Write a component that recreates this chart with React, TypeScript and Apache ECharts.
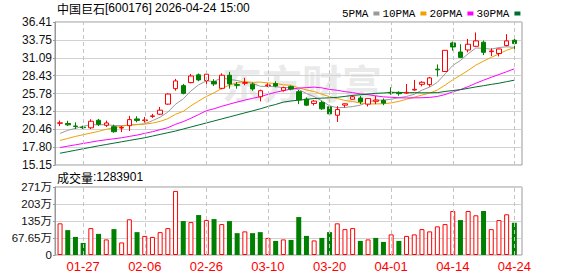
import React, { useEffect, useRef } from 'react';
import * as echarts from 'echarts';

const dates = [
  '01-22', '01-23', '01-26', '01-27', '01-28', '01-29', '01-30', '02-02', '02-03', '02-04',
  '02-05', '02-06', '02-09', '02-10', '02-11', '02-12', '02-13', '02-24', '02-25', '02-26',
  '02-27', '03-02', '03-03', '03-04', '03-05', '03-06', '03-09', '03-10', '03-11', '03-12',
  '03-13', '03-16', '03-17', '03-18', '03-19', '03-20', '03-23', '03-24', '03-25', '03-26',
  '03-27', '03-30', '03-31', '04-01', '04-02', '04-03', '04-07', '04-08', '04-09', '04-10',
  '04-13', '04-14', '04-15', '04-16', '04-17', '04-20', '04-21', '04-22', '04-23', '04-24',
];

const opens = [
  21.35, 21.32, 20.95, 20.78, 20.68, 21.8, 21.05, 20.85, 20.65, 21.0,
  22.0, 21.75, 22.38, 22.7, 24.2, 26.5, 26.95, 27.4, 28.55, 27.7,
  27.55, 26.55, 28.5, 27.1, 27.3, 27.15, 25.3, 26.95, 27.25, 26.25,
  26.8, 26.05, 24.95, 24.3, 24.45, 23.8, 22.55, 24.05, 24.92, 25.1,
  24.2, 24.62, 24.75, 25.95, 25.9, 25.85, 26.3, 27.15, 27.1, 29.4,
  29.05, 33.3, 31.95, 32.25, 32.8, 33.4, 32.0, 31.72, 32.9, 33.7,
];
const closes = [
  21.42, 21.12, 20.88, 20.7, 21.65, 21.2, 21.4, 20.1, 20.72, 21.9,
  21.78, 21.85, 22.45, 23.3, 25.7, 27.65, 25.8, 28.38, 27.8, 28.65,
  27.2, 28.5, 27.2, 27.0, 27.4, 26.45, 26.2, 27.05, 26.9, 26.65,
  26.45, 24.82, 24.05, 24.65, 23.5, 22.75, 23.4, 24.25, 25.3, 24.55,
  25.05, 24.8, 24.35, 25.85, 25.75, 25.95, 26.4, 27.45, 28.1, 29.3,
  32.2, 32.7, 31.15, 33.1, 33.6, 31.9, 32.1, 32.4, 33.6, 33.2,
];
const lows = [
  20.95, 20.95, 20.5, 20.5, 20.5, 20.95, 20.8, 19.95, 20.05, 20.2,
  21.5, 21.45, 22.15, 22.6, 24.1, 26.2, 25.65, 27.3, 27.6, 27.15,
  26.9, 26.4, 26.5, 26.5, 27.0, 26.2, 24.6, 26.75, 26.7, 26.05,
  26.25, 24.2, 23.9, 24.0, 23.35, 22.45, 21.55, 23.7, 24.9, 24.2,
  23.85, 24.2, 24.05, 25.6, 25.45, 25.75, 26.2, 26.85, 26.8, 28.3,
  29.0, 32.15, 31.1, 31.9, 32.7, 31.5, 31.35, 31.3, 32.8, 32.05,
];
const highs = [
  21.75, 21.72, 21.5, 21.0, 21.95, 22.0, 21.75, 21.15, 20.95, 22.45,
  22.4, 22.3, 22.75, 23.78, 25.8, 27.95, 27.2, 28.68, 28.75, 29.1,
  27.9, 28.78, 29.0, 27.5, 28.1, 27.4, 26.35, 27.3, 27.6, 26.8,
  26.95, 26.3, 25.2, 24.8, 24.7, 24.1, 23.9, 24.3, 25.55, 25.4,
  25.1, 25.4, 25.05, 26.7, 26.1, 27.2, 27.8, 27.6, 28.25, 30.1,
  32.25, 33.5, 33.1, 33.9, 34.85, 33.65, 32.5, 32.45, 34.6, 34.0,
];

const ma5 = [
  19.85, 20.3, 20.6, 20.9, 21.15, 21.11, 21.17, 21.01, 21.01, 21.06,
  21.18, 21.27, 21.74, 22.26, 23.02, 24.19, 24.98, 26.17, 27.07, 27.66,
  27.57, 28.11, 27.87, 27.71, 27.46, 27.31, 26.85, 26.82, 26.8, 26.65,
  26.65, 26.37, 25.77, 25.32, 24.69, 23.95, 23.67, 23.71, 23.84, 24.05,
  24.51, 24.79, 24.81, 24.92, 25.16, 25.34, 25.66, 26.28, 26.73, 27.44,
  28.69, 29.95, 30.69, 31.69, 32.55, 32.49, 32.37, 32.62, 32.72, 32.64,
];
const ma10 = [
  18.8, 19.1, 19.4, 19.65, 19.9, 20.15, 20.45, 20.7, 20.9, 21.11,
  21.15, 21.22, 21.38, 21.64, 22.04, 22.69, 23.13, 23.95, 24.66, 25.34,
  25.88, 26.54, 27.02, 27.39, 27.56, 27.44, 27.48, 27.35, 27.27, 27.07,
  26.99, 26.62, 26.31, 26.07, 25.68, 25.31, 25.03, 24.75, 24.58, 24.37,
  24.23, 24.23, 24.26, 24.38, 24.61, 24.93, 25.23, 25.55, 25.83, 26.3,
  27.02, 27.81, 28.49, 29.21, 30.0, 30.59, 31.16, 31.66, 32.21, 32.6,
];
const ma20 = [
  17.75, 17.95, 18.15, 18.35, 18.55, 18.75, 18.9, 19.05, 19.2, 19.4,
  19.6, 19.85, 20.1, 20.4, 20.7, 21.2, 21.6, 22.1, 22.65, 23.22,
  23.51, 23.88, 24.2, 24.51, 24.8, 25.06, 25.3, 25.65, 25.96, 26.2,
  26.43, 26.58, 26.66, 26.73, 26.62, 26.38, 26.26, 26.05, 25.92, 25.72,
  25.61, 25.43, 25.28, 25.22, 25.14, 25.12, 25.13, 25.15, 25.2, 25.34,
  25.62, 26.02, 26.37, 26.8, 27.3, 27.76, 28.19, 28.6, 29.02, 29.45,
];
const ma30 = [
  16.9, 17.12, 17.34, 17.56, 17.78, 18.0, 18.2, 18.4, 18.6, 18.8,
  19.0, 19.2, 19.45, 19.7, 19.95, 20.2, 20.5, 20.8, 21.1, 21.4,
  21.7, 22.0, 22.3, 22.6, 22.9, 23.2, 23.5, 23.85, 24.15, 24.5,
  24.67, 24.79, 24.9, 25.03, 25.09, 25.14, 25.21, 25.35, 25.5, 25.59,
  25.7, 25.8, 25.86, 25.94, 25.95, 25.89, 25.91, 25.88, 25.89, 25.91,
  26.08, 26.22, 26.35, 26.55, 26.76, 26.94, 27.13, 27.31, 27.54, 27.76,
];

// volume in 万
const volumes = [
  126, 99, 72, 48, 107, 84, 62, 103, 50, 142,
  91, 76, 72, 91, 107, 255, 135, 131, 159, 139,
  143, 123, 135, 87, 94, 87, 91, 68, 56, 62,
  60, 151, 76, 58, 68, 91, 126, 103, 107, 56,
  62, 68, 52, 82, 56, 76, 82, 103, 94, 114,
  123, 175, 139, 175, 158, 175, 103, 139, 162, 128.39,
];
// 1 = up day (red hollow), 0 = down day (green filled)
const volumeUp = [
  1, 0, 0, 0, 1, 0, 1, 0, 1, 1,
  0, 1, 1, 1, 1, 1, 0, 1, 0, 1,
  0, 1, 0, 0, 1, 0, 0, 1, 0, 1,
  0, 0, 0, 1, 0, 0, 1, 1, 1, 0,
  1, 0, 0, 1, 0, 1, 1, 1, 1, 1,
  1, 1, 0, 1, 1, 0, 1, 1, 1, 0,
];

const xLabelDates = ['01-27', '02-06', '02-26', '03-10', '03-20', '04-01', '04-14', '04-24'];
const priceMin = 15.15;
const priceMax = 36.41;
const priceStep = 2.6575;
const volMax = 270.6;
const volStep = 67.65;
const volTickLabels = ['0', '67.65万', '135万', '203万', '271万'];
const stockName = '中国巨石';
const stockHeader = '[600176] 2026-04-24 15:00';
const lastVolumeText = ':1283901';
const maNames = ['5PMA', '10PMA', '20PMA', '30PMA'];
const maColors = ['#9a9a9a', '#f0a000', '#ff00ff', '#006e2e'];

const RED = '#ff0000';
const GREEN = '#008000';
const SANS = 'Liberation Sans, Arial, sans-serif';
const CJK = 'Noto Sans CJK SC, sans-serif';

export default function App() {
  const ref = useRef<HTMLDivElement>(null);

  useEffect(() => {
    if (!ref.current) return;
    const chart = echarts.init(ref.current, null, { renderer: 'svg' });

    const frameLeft = 55;
    const frameWidth = 467;
    const seriesLeft = 56.2;
    const seriesWidth = 462;
    const mainTop = 22;
    const mainHeight = 143;
    const volTop = 187;
    const volHeight = 68;

    const vLines = {
      silent: true,
      symbol: ['none', 'none'],
      label: { show: false },
      lineStyle: { type: [4, 3], color: '#c4c4c4', width: 1 },
      emphasis: { disabled: true },
      data: xLabelDates.map((d) => ({ xAxis: d })),
    };

    const maSeries = [ma5, ma10, ma20, ma30].map((arr, k) => ({
      name: maNames[k],
      type: 'line',
      xAxisIndex: 1,
      yAxisIndex: 1,
      data: arr,
      symbol: 'none',
      showSymbol: false,
      smooth: false,
      z: 3,
      lineStyle: { color: maColors[k], width: 1 },
      itemStyle: { color: maColors[k] },
      ...(k === 3 ? { markLine: vLines } : {}),
    }));

    const option: any = {
      animation: false,
      backgroundColor: '#ffffff',
      legend: {
        left: 337,
        top: 3,
        align: 'right',
        itemWidth: 6,
        itemHeight: 4,
        itemGap: 3,
        icon: 'rect',
        selectedMode: false,
        textStyle: { fontFamily: 'Liberation Mono, monospace', fontSize: 11, color: '#000' },
        data: maNames,
      },
      graphic: [
        {
          type: 'text',
          left: 222,
          top: 62,
          z: -10,
          silent: true,
          style: {
            text: '东方财富',
            fontFamily: CJK,
            fontSize: 40,
            fontWeight: 'bold',
            fill: '#eaeaea',
          },
        },
        {
          type: 'text',
          left: 57,
          top: 2,
          style: {
            text: '{a|' + stockName + '}{b|' + stockHeader + '}',
            rich: {
              a: { fontFamily: CJK, fontSize: 12, fill: '#000' },
              b: { fontFamily: SANS, fontSize: 12, fill: '#000' },
            },
          },
        },
        {
          type: 'text',
          left: 57,
          top: 171,
          style: {
            text: '{a|成交量}{b|' + lastVolumeText + '}',
            rich: {
              a: { fontFamily: CJK, fontSize: 12, fill: '#000' },
              b: { fontFamily: SANS, fontSize: 12, fill: '#000' },
            },
          },
        },
      ],
      grid: [
        { left: frameLeft, top: mainTop, width: frameWidth, height: mainHeight, show: true, borderColor: '#999', borderWidth: 1, backgroundColor: 'transparent' },
        { left: seriesLeft, top: mainTop, width: seriesWidth, height: mainHeight },
        { left: frameLeft, top: volTop, width: frameWidth, height: volHeight, show: true, borderColor: '#999', borderWidth: 1, backgroundColor: 'transparent' },
        { left: seriesLeft, top: volTop, width: seriesWidth, height: volHeight },
      ],
      xAxis: [
        { gridIndex: 0, type: 'category', data: dates, show: false },
        { gridIndex: 1, type: 'category', data: dates, show: false },
        { gridIndex: 2, type: 'category', data: dates, show: false },
        {
          gridIndex: 3,
          type: 'category',
          data: dates,
          axisLine: { show: false },
          axisTick: { show: false },
          splitLine: { show: false },
          axisLabel: {
            interval: (_i: number, v: string) => xLabelDates.includes(v),
            color: RED,
            fontFamily: SANS,
            fontSize: 13,
            margin: 5,
          },
        },
      ],
      yAxis: [
        {
          gridIndex: 0,
          type: 'value',
          min: priceMin,
          max: priceMax,
          interval: priceStep,
          axisLine: { show: true, lineStyle: { color: '#999' } },
          axisTick: { show: true, length: 2, lineStyle: { color: '#999' } },
          axisLabel: {
            margin: 3,
            color: '#111',
            fontFamily: SANS,
            fontSize: 12,
            formatter: (v: number) => (Math.floor(v * 100 + 1e-4) / 100).toFixed(2),
          },
          splitLine: { show: true, lineStyle: { color: '#d2d2d2', width: 1 } },
        },
        { gridIndex: 1, type: 'value', min: priceMin, max: priceMax, show: false, splitLine: { show: false } },
        {
          gridIndex: 2,
          type: 'value',
          min: 0,
          max: volMax,
          interval: volStep,
          axisLine: { show: true, lineStyle: { color: '#999' } },
          axisTick: { show: true, length: 2, lineStyle: { color: '#999' } },
          axisLabel: {
            margin: 3,
            color: '#111',
            fontFamily: 'Liberation Sans, ' + CJK,
            fontSize: 11.5,
            formatter: (v: number) => volTickLabels[Math.round(v / volStep)] ?? '',
          },
          splitLine: { show: true, lineStyle: { color: '#d2d2d2', width: 1 } },
        },
        { gridIndex: 3, type: 'value', min: 0, max: volMax, show: false, splitLine: { show: false } },
      ],
      series: [
        {
          name: 'K',
          type: 'candlestick',
          xAxisIndex: 1,
          yAxisIndex: 1,
          barWidth: 5,
          z: 4,
          data: dates.map((_, i) => [opens[i], closes[i], lows[i], highs[i]]),
          itemStyle: {
            color: '#ffffff',
            color0: GREEN,
            borderColor: RED,
            borderColor0: GREEN,
            borderWidth: 1,
          },
        },
        ...maSeries,
        {
          name: 'VOL',
          type: 'bar',
          xAxisIndex: 3,
          yAxisIndex: 3,
          barWidth: 5,
          data: volumes.map((v, i) => ({
            value: v,
            itemStyle: volumeUp[i]
              ? { color: '#ffffff', borderColor: RED, borderWidth: 1 }
              : { color: GREEN, borderColor: GREEN, borderWidth: 0 },
          })),
          markLine: vLines,
        },
      ],
    };

    chart.setOption(option);
    return () => chart.dispose();
  }, []);

  return (
    <div
      ref={ref}
      style={{ position: 'fixed', left: 0, top: 0, width: 578, height: 276, background: '#fff' }}
    />
  );
}
